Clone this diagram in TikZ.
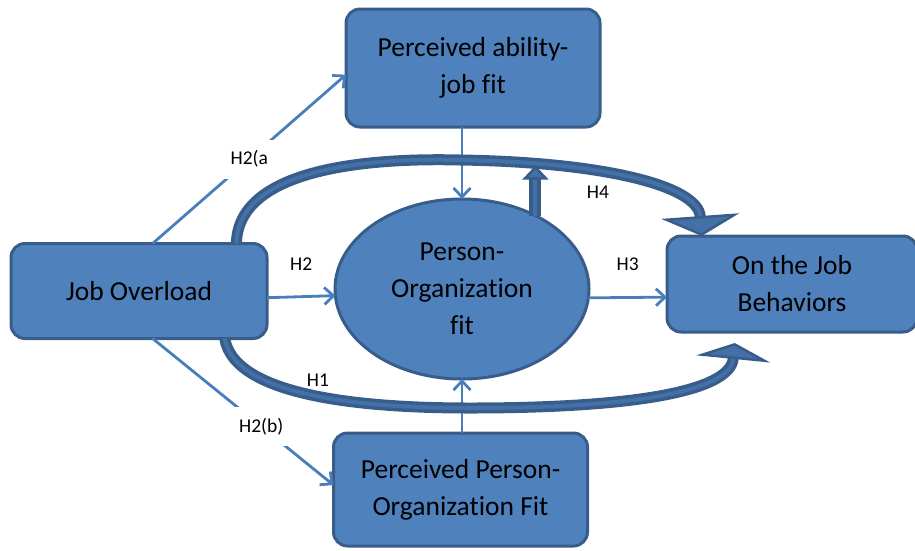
\documentclass[tikz,border=0pt]{standalone}
\usepackage{fontspec}
\setmainfont{Carlito}[Ligatures=NoCommon]
\usetikzlibrary{positioning, arrows.meta, shapes.geometric}

\definecolor{boxfill}{HTML}{4F81BD}
\definecolor{boxline}{HTML}{385D8A}
\definecolor{linkcol}{HTML}{4A7EBB}
\definecolor{bandmid}{HTML}{4470A8}

\begin{document}
\begin{tikzpicture}[x=1pt, y=-1pt,
	box/.style={rectangle, rounded corners=14pt, fill=boxfill, draw=boxline, line width=3pt, outer sep=0pt, align=center, font=\fontsize{27.5}{37}\selectfont, minimum width=254pt},
	oval/.style={ellipse, fill=boxfill, draw=boxline, line width=3pt, outer sep=0pt, inner sep=0pt, align=center, font=\fontsize{27.5}{37}\selectfont, minimum width=254pt, minimum height=180pt},
	link/.style={color=linkcol, line width=2.8pt, -{Straight Barb[length=9pt, width=17pt]}},
	tag/.style={font=\fontsize{19.5}{21}\selectfont, text=black},
	gap/.style={tag, fill=white, inner sep=11pt},
	band/.style n args={3}{draw=boxline, line width=#3, -{Triangle[length=#1, width=#2, line width=2.5pt, fill=bandmid]}, postaction={draw=bandmid, line width=4pt, arrows=-, shorten >=#1}}
]
	\useasboundingbox (0,0) rectangle (915,550);

	\node[oval] 							(P) at (462,289) 					{Person-\\Organization\\fit};
	\node[box, minimum height=118pt] 		(A) [above=72pt of P, xshift=11pt] 	{Perceived ability-\\job fit};
	\node[box, minimum height=95pt, minimum width=256pt]	(O) [left=68pt of P, yshift=-2pt] 	{Job Overload};
	\node[box, minimum height=96pt, minimum width=250pt]	(B) [right=78pt of P, yshift=5pt] 	{On the Job\\Behaviors};
	\node[box, minimum height=113pt] 		(Q) [below=54pt of P, xshift=-1.5pt] {Perceived Person-\\Organization Fit};

	\path[link]
	(O.74)  	edge 	node[gap, pos=.5] 		{H2(a}		(A.183)
	(O.286) 	edge 	node[gap, pos=.6] 		{H2(b)}		(Q.178)
	(O.-3)  	edge 	node[tag, above=21pt] 	{H2}		(P.183)
	(P.-4)  	edge 	node[tag, above=22pt] 	{H3}		(B.186)
	(A.south -| P.north) 	edge 	(P.north)
	(Q.north -| P.south) 	edge 	(P.south)
;

	\draw[band={14pt}{26pt}{12pt}] (P.45) -- ++(0,-50);
	\draw[band={20pt}{78pt}{11pt}] (O.26) .. controls (238,165) and (380,158) .. (460,160) .. controls (600,162) and (698,185) .. (B.152);
	\draw[band={16pt}{74pt}{11pt}] (O.-29) .. controls (235,400) and (380,408) .. (470,408) .. controls (630,408) and (730,392) .. ([yshift=-11pt]B.-140);

	\node[tag] (h4) at (598,192) {H4};
	\node[tag] (h1) at (318,380) {H1};

\end{tikzpicture}
\end{document}
